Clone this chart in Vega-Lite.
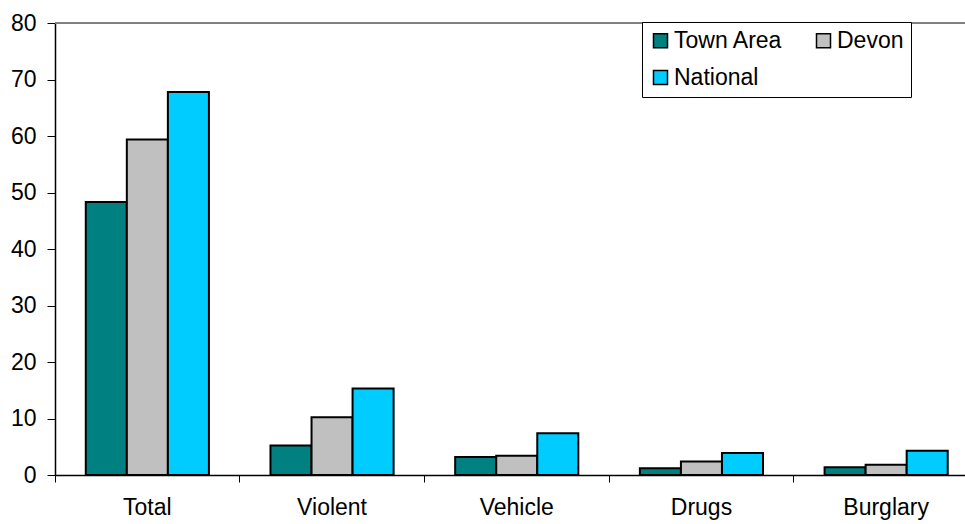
{
  "$schema": "https://vega.github.io/schema/vega-lite/v6.json",
  "autosize": "none",
  "width": 923.5,
  "height": 452,
  "padding": {"left": 55, "top": 23, "right": 0, "bottom": 49},
  "background": "white",
  "config": {
    "font": "Liberation Sans",
    "view": {"stroke": null}
  },
  "data": {
    "values": [
      {"crime": "Total", "area": "Town Area", "value": 48.3},
      {"crime": "Total", "area": "Devon", "value": 59.4},
      {"crime": "Total", "area": "National", "value": 67.8},
      {"crime": "Violent", "area": "Town Area", "value": 5.2},
      {"crime": "Violent", "area": "Devon", "value": 10.2},
      {"crime": "Violent", "area": "National", "value": 15.3},
      {"crime": "Vehicle", "area": "Town Area", "value": 3.2},
      {"crime": "Vehicle", "area": "Devon", "value": 3.4},
      {"crime": "Vehicle", "area": "National", "value": 7.4},
      {"crime": "Drugs", "area": "Town Area", "value": 1.2},
      {"crime": "Drugs", "area": "Devon", "value": 2.4},
      {"crime": "Drugs", "area": "National", "value": 3.9},
      {"crime": "Burglary", "area": "Town Area", "value": 1.35},
      {"crime": "Burglary", "area": "Devon", "value": 1.8},
      {"crime": "Burglary", "area": "National", "value": 4.3}
    ]
  },
  "layer": [
    {
      "mark": {"type": "rule", "color": "#808080", "strokeWidth": 1},
      "encoding": {"y": {"datum": 80, "type": "quantitative"}}
    },
    {
      "mark": {"type": "bar", "stroke": "black", "strokeWidth": 2},
      "encoding": {
        "x": {
          "field": "crime",
          "type": "nominal",
          "sort": ["Total", "Violent", "Vehicle", "Drugs", "Burglary"],
          "scale": {"paddingInner": 0, "paddingOuter": 0},
          "axis": {
            "title": null,
            "labelAngle": 0,
            "labelFontSize": 23,
            "labelColor": "black",
            "labelPadding": 14,
            "bandPosition": 0,
            "tickColor": "black",
            "tickSize": 7,
            "domainColor": "black",
            "domainWidth": 1.5,
            "grid": false
          }
        },
        "xOffset": {
          "field": "area",
          "type": "nominal",
          "sort": ["Town Area", "Devon", "National"],
          "scale": {"paddingInner": 0, "paddingOuter": 0.75}
        },
        "y": {
          "field": "value",
          "type": "quantitative",
          "scale": {"domain": [0, 80], "nice": false},
          "axis": {
            "title": null,
            "values": [0, 10, 20, 30, 40, 50, 60, 70, 80],
            "labelFontSize": 23,
            "labelColor": "black",
            "labelPadding": 11,
            "tickColor": "black",
            "tickSize": 8,
            "domainColor": "black",
            "domainWidth": 1.5,
            "gridColor": "#a0a0a0",
            "gridWidth": 1
          }
        },
        "color": {
          "field": "area",
          "type": "nominal",
          "sort": ["Town Area", "Devon", "National"],
          "scale": {
            "domain": ["Town Area", "Devon", "National"],
            "range": ["#008080", "#C0C0C0", "#00CCFF"]
          },
          "legend": {
            "title": null,
            "orient": "none",
            "legendX": 587,
            "legendY": -1,
            "direction": "horizontal",
            "columns": 2,
            "gridAlign": "all",
            "columnPadding": 29,
            "rowPadding": 13,
            "padding": 7,
            "fillColor": "white",
            "strokeColor": "black",
            "symbolType": "square",
            "symbolSize": 196,
            "symbolStrokeColor": "black",
            "symbolStrokeWidth": 1.5,
            "symbolOpacity": 1,
            "labelFontSize": 23,
            "labelColor": "black",
            "labelOffset": 2
          }
        }
      }
    }
  ]
}
